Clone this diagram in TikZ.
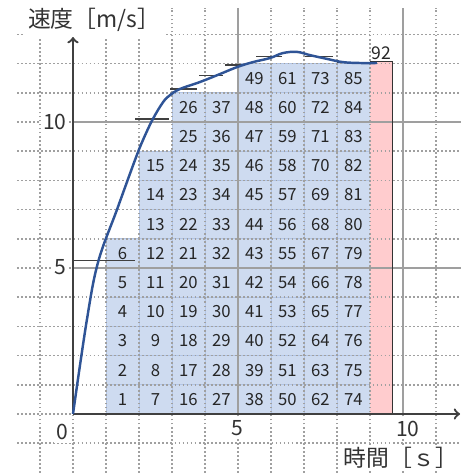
\documentclass[tikz,border=0pt]{standalone}
\usepackage{fontspec}
\setmainfont{Noto Sans CJK JP}
\usetikzlibrary{arrows,positioning}

\definecolor{cellblue}{RGB}{206,219,240}
\definecolor{cellline}{RGB}{178,197,230}
\definecolor{curveblue}{RGB}{47,84,150}
\definecolor{lastpink}{RGB}{255,204,206}
\definecolor{gridgray}{RGB}{160,160,160}
\definecolor{axisgray}{RGB}{64,64,64}

\begin{document}
\begin{tikzpicture}[x=0.66cm, y=0.584cm,
	GridStyle/.style = {gridgray, line width=0.9pt, dash pattern=on 1pt off 1.3pt},
	MainGridStyle/.style = {gray!75, line width=1pt},
	AxisStyle/.style = {axisgray, line width=1.3pt, ->, >=to},
	CellStyle/.style = {draw=cellline, fill=cellblue, line width=0.4pt, minimum width=0.66cm, minimum height=0.584cm, inner sep=0pt, font=\fontsize{9.5}{10}\selectfont, text=black!85},
	PinkStyle/.style = {fill=lastpink, minimum width=0.429cm, minimum height=7.037cm, inner sep=0pt},
	TickStyle/.style = {black!75, line width=0.7pt},
	CurveStyle/.style = {curveblue, line width=1.4pt},
	LabelStyle/.style = {fill=white, inner sep=1.5pt, font=\fontsize{12}{14}\selectfont, text=black!80}]

	\useasboundingbox (-2.212,-2.021) rectangle (11.758,14.178);

	% cells
	\foreach \col/\rows/\first in {1/6/1, 2/9/7, 3/11/16, 4/11/27, 5/12/38, 6/12/50, 7/12/62, 8/12/74}{
		\foreach \row in {1,...,\rows}{
			\pgfmathtruncatemacro{\num}{\first+\row-1}
			\node[CellStyle] (c\num) at (\col+0.5,\row-0.5) {\num};
		}
	}
	\node[PinkStyle, anchor=south west] (c92) at (9,0) {};

	% grid
	\foreach \x in {-1,...,11}
		\draw[GridStyle] (\x,-2.021) -- (\x,13.9);
	\foreach \y in {-1,...,13}
		\draw[GridStyle] (-1.7,\y) -- (11.758,\y);
	\foreach \v in {5,10}{
		\draw[MainGridStyle] (0,\v) -- (11.758,\v);
		\draw[MainGridStyle] (\v,0) -- (\v,13.9);
	}
	\draw[black!80, line width=0.6pt] (c92.north west) -- (c92.north east) -- (c92.south east);
	\node[above=0pt of c92, inner sep=1pt, font=\fontsize{10}{12}\selectfont, text=black!85] (n92) {92};

	% axes
	\coordinate (O) at (0,0);
	\coordinate (xend) at (11.73,0);
	\coordinate (yend) at (0,12.91);
	\draw[AxisStyle] (O) -- (xend);
	\draw[AxisStyle] (O) -- (yend);

	\node[LabelStyle, inner sep=3pt, font=\fontsize{13}{15}\selectfont] (vlab) at (0.64,13.49) {速度［m/s］};
	\node[LabelStyle, font=\fontsize{13}{15}\selectfont] (tlab) at (9.94,-1.51) {時間［ｓ］};
	\node[LabelStyle] (y10) at (-0.55,10) {10};
	\node[LabelStyle] (y5) at (-0.39,5.03) {5};
	\node[LabelStyle] (y0) at (-0.33,-0.62) {0};
	\node[LabelStyle] (x5) at (4.97,-0.5) {5};
	\node[LabelStyle] (x10) at (10.15,-0.5) {10};

	% speed marks
	\foreach \a/\b/\v in {0/1.88/5.25, 1.88/2.9/10.1, 2.94/3.76/11.13, 3.82/4.55/11.58, 4.6/5.2/11.95, 5.55/6.33/12.23, 7.03/7.88/12.23, 8/9/12.05}
		\draw[TickStyle] (\a,\v) -- (\b,\v);

	\draw[CurveStyle] plot[smooth, tension=0.6] coordinates {(0,0) (0.42,3.22) (0.76,5.2) (1.33,6.99) (1.88,8.70) (2.12,9.38) (2.42,10.10) (2.73,10.68) (2.94,10.92) (3.24,11.13) (3.85,11.37) (4.45,11.64) (4.97,11.88) (5.45,12.05) (5.97,12.19) (6.36,12.36) (6.79,12.40) (7.18,12.29) (7.70,12.16) (8.18,12.05) (8.70,12.02) (9.21,12.02)};
\end{tikzpicture}
\end{document}
